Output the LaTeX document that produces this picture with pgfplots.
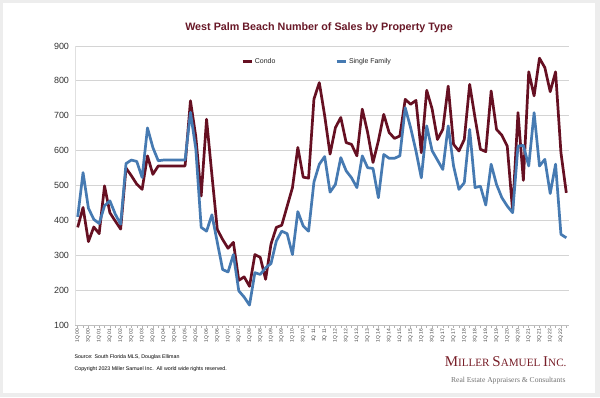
\documentclass[border=0pt]{standalone}
\usepackage{fontspec}
\setmainfont{Liberation Sans}
\newfontfamily\seriffont{Liberation Serif}
\usepackage{pgfplots}
\pgfplotsset{compat=1.18}
\usepackage{pgfplotstable}
\definecolor{condo}{RGB}{102,16,34}
\definecolor{sfam}{RGB}{70,122,178}
\definecolor{ttl}{RGB}{105,25,40}
\definecolor{logo}{RGB}{120,30,40}
\pgfplotstableread{
i c s
0 380 410
1 437 537
2 339 435
3 381 403
4 362 391
5 499 442
6 422 456
7 398 418
8 375 389
9 550 563
10 528 573
11 504 569
12 489 523
13 585 665
14 532 609
15 556 571
16 556 573
17 556 573
18 556 573
19 556 573
20 556 573
21 743 710
22 640 605
23 470 380
24 690 369
25 530 416
26 374 337
27 345 259
28 320 252
29 337 302
30 228 198
31 238 180
32 211 157
33 302 250
34 294 245
35 231 264
36 332 276
37 380 341
38 386 369
39 440 362
40 494 302
41 609 425
42 524 384
43 521 369
44 748 510
45 795 561
46 700 583
47 590 481
48 666 503
49 695 580
50 623 542
51 618 522
52 585 494
53 719 585
54 652 551
55 566 549
56 628 465
57 704 589
58 652 578
59 635 578
60 642 585
61 747 723
62 733 666
63 744 599
64 594 522
65 773 671
66 720 600
67 632 573
68 661 546
69 785 671
70 618 556
71 599 489
72 632 508
73 790 661
74 694 494
75 604 498
76 597 444
77 771 561
78 661 503
79 644 465
80 613 441
81 427 422
82 709 613
83 515 615
84 826 556
85 757 709
86 865 556
87 838 575
88 769 477
89 826 561
90 594 360
91 479 350
}\datatable
\begin{document}
\begin{tikzpicture}[x=1bp,y=1bp]
\fill[black!7] (0,0) rectangle (600,397);
\fill[white] (3,4) rectangle (595,394);
\node[font=\bfseries\fontsize{10.8}{12}\selectfont, text=ttl] at (319,369) {West Palm Beach Number of Sales by Property Type};
\begin{axis}[
  at={(75bp,72bp)}, anchor=south west,
  scale only axis, width=494bp, height=279bp,
  xmin=-0.5, xmax=91.5, ymin=100, ymax=900,
  ytick={100,200,...,900},
  ymajorgrids, grid style={black!17, line width=0.8bp},
  axis x line*=bottom, axis y line*=left,
  axis line style={black!25, line width=0.8bp},
  y axis line style={black!12},
  xtick={0,2,...,90},
  minor xtick={1,3,...,91},
  xticklabels={1Q 00,3Q 00,1Q 01,3Q 01,1Q 02,3Q 02,1Q 03,3Q 03,1Q 04,3Q 04,1Q 05,3Q 05,1Q 06,3Q 06,1Q 07,3Q 07,1Q 08,3Q 08,1Q 09,3Q 09,1Q 10,3Q 10,1Q 11,3Q 11,1Q 12,3Q 12,1Q 13,3Q 13,1Q 14,3Q 14,1Q 15,3Q 15,1Q 16,3Q 16,1Q 17,3Q 17,1Q 18,3Q 18,1Q 19,3Q 19,1Q 20,3Q 20,1Q 21,3Q 21,1Q 22,3Q 22},
  xticklabel style={rotate=90, anchor=east, font=\fontsize{5}{5}\selectfont, text=black!75, inner sep=1bp},
  yticklabel style={font=\fontsize{9}{9}\selectfont, text=black!80},
  /pgf/number format/assume math mode=true,
  ytick style={draw=none},
  xtick style={black!30, line width=0.5bp},
  major tick length=2.5bp, minor tick length=2.5bp,
  tick align=outside,
  legend columns=2,
  legend style={draw=none, fill=none, at={(0.49,0.945)}, anchor=center,
    font=\fontsize{7}{8}\selectfont, text=black!85,
    /tikz/every even column/.append style={column sep=58bp}},
  legend image code/.code={\draw[#1, line width=2.6bp] (0,0) -- (9bp,0);},
  every axis plot/.append style={line width=2.7bp, line join=round},
]
\addplot[condo, mark=none] table[x=i, y=c] {\datatable};
\addlegendentry{Condo}
\addplot[sfam, mark=none] table[x=i, y=s] {\datatable};
\addlegendentry{Single Family}
\end{axis}
\node[anchor=west, font=\fontsize{5.3}{6}\selectfont] at (71,40) {Source: South Florida MLS, Douglas Elliman};
\node[anchor=west, font=\fontsize{5.3}{6}\selectfont] at (71,28) {Copyright 2023 Miller Samuel Inc.\ \ All world wide rights reserved.};
\node[anchor=east, text=logo, font=\seriffont\fontsize{11.2}{12}\selectfont] at (570,35) {{\fontsize{15}{15}\selectfont M}ILLER {\fontsize{15}{15}\selectfont S}AMUEL {\fontsize{15}{15}\selectfont I}NC.};
\node[anchor=east, text=black!55, font=\seriffont\fontsize{7.6}{8}\selectfont] at (569,16) {Real Estate Appraisers \& Consultants};
\end{tikzpicture}
\end{document}
